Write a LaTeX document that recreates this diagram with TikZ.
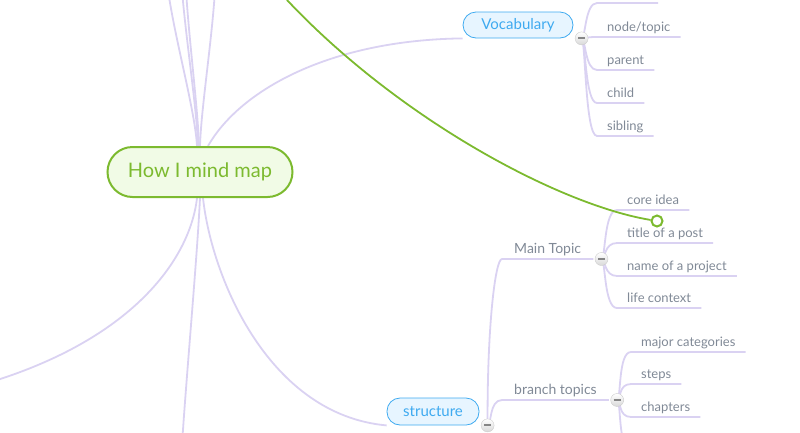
\documentclass[tikz,border=0pt]{standalone}
\usepackage{fontspec}
\setmainfont{Lato}
\usetikzlibrary{positioning}

\definecolor{linklav}{RGB}{218,210,242}
\definecolor{rootgreen}{RGB}{124,186,47}
\definecolor{rootfill}{RGB}{241,251,230}
\definecolor{mainblue}{RGB}{62,170,240}
\definecolor{mainfill}{RGB}{231,245,255}
\definecolor{leafgray}{RGB}{128,137,150}

\pgfdeclarelayer{bg}
\pgfsetlayers{bg,main}

\tikzset{
	link/.style={draw=linklav, line width=1.8pt},
	relline/.style={draw=rootgreen, line width=1.8pt},
	rootbox/.style={draw=rootgreen, line width=2pt, fill=rootfill, rounded corners=25pt,
		minimum width=185pt, minimum height=50pt, text=rootgreen, font=\fontsize{20}{23}\selectfont},
	pill/.style={draw=mainblue, line width=.8pt, fill=mainfill, rounded corners=13pt,
		minimum height=26pt, text=mainblue, font=\fontsize{15}{18}\selectfont},
	sub/.style={anchor=south west, inner xsep=12pt, inner ysep=2pt, text height=10pt,
		text depth=3pt, text=leafgray, font=\fontsize{14}{16}\selectfont},
	leaf/.style={sub, inner xsep=10pt, font=\fontsize{13}{15}\selectfont},
	fold/.style={circle, draw=gray!40, top color=white, bottom color=gray!30, minimum size=13pt,
		inner sep=0pt, path picture={\draw[gray!95, line width=2pt]
		([xshift=-3.5pt]path picture bounding box.center) -- ([xshift=3.5pt]path picture bounding box.center);}},
	relend/.style={circle, draw=rootgreen, line width=2pt, fill=white, minimum size=11pt, inner sep=0pt},
}

\begin{document}
\begin{tikzpicture}[x=1pt, y=-1pt]
	\useasboundingbox (0,0) rectangle (800,432);
	\clip (0,0) rectangle (800,432);
	\node[rootbox] (root) at (200,172) {How I mind map};
	\node[pill, minimum width=110pt] (vocab) at (518,25) {Vocabulary};
	\node[pill, minimum width=92pt, minimum height=27pt] (struct) at (433,411.5) {structure};
	\node[fold, right=1.5pt of vocab.south east] (vfold) {};
	\node[fold, right=1.5pt of struct.south east] (sfold) {};
	\node[sub] (mtopic) at (502,259) {Main Topic};
	\node[fold, right=1.5pt of mtopic.south east] (mfold) {};
	\node[sub] (btopic) at (502,400) {branch topics};
	\node[fold, right=1.5pt of btopic.south east] (bfold) {};
	% vocabulary
	\coordinate (vtop) at (597,3);
	\coordinate (vtopend) at (658,3);
	\node[leaf] (nodetopic) at (597,37) {node/topic};
	\node[leaf] (parent) at (597,70) {parent};
	\node[leaf] (child) at (597,103) {child};
	\node[leaf] (sibling) at (597,136) {sibling};
	% main topic
	\node[leaf] (coreidea) at (617,210) {core idea};
	\node[leaf] (postitle) at (617,243) {title of a post};
	\node[leaf] (project) at (617,276) {name of a project};
	\node[leaf] (context) at (617,308) {life context};
	% branch topics
	\node[leaf] (categories) at (631,352) {major categories};
	\node[leaf] (steps) at (631,384) {steps};
	\node[leaf] (chapters) at (631,417) {chapters};
	\coordinate (bnext) at (631,451);
	% ends off the page
	\coordinate (up1) at (168,-10);
	\coordinate (up2) at (182,-10);
	\coordinate (up3) at (186,-10);
	\coordinate (up4) at (215,-10);
	\coordinate (left1) at (-30,388);
	\coordinate (down1) at (182,445);
	\coordinate (relstart) at (287,0);
	\node[relend] (relend) at (657,221) {};

	\begin{pgfonlayer}{bg}
	\draw[link] ([xshift=-3pt]root.north) .. controls (195,110) and (175,40) .. (up1);
	\draw[link] ([xshift=-2pt]root.north) .. controls (197,110) and (186,40) .. (up2);
	\draw[link] ([xshift=-1pt]root.north) .. controls (198,110) and (189,40) .. (up3);
	\draw[link] (root.north) .. controls (201,110) and (212,40) .. (up4);
	\draw[link] ([xshift=8pt]root.north) .. controls (240,90) and (330,40) .. (vocab.south west);
	\draw[link] ([xshift=-3pt]root.south) .. controls (190,260) and (130,345) .. (left1);
	\draw[link] (root.south) .. controls (197,260) and (186,380) .. (down1);
	\draw[link] ([xshift=3pt]root.south) .. controls (212,280) and (270,415) .. (struct.south west);

	\draw[link] (vfold.center) .. controls +(4,0) and +(-12,0) .. (vtop) -- (vtopend);
	\draw[link] (vfold.center) .. controls +(4,0) and +(-12,0) .. (nodetopic.south west) -- (nodetopic.south east);
	\draw[link] (vfold.center) .. controls +(4,0) and +(-12,0) .. (parent.south west) -- (parent.south east);
	\draw[link] (vfold.center) .. controls +(4,0) and +(-12,0) .. (child.south west) -- (child.south east);
	\draw[link] (vfold.center) .. controls +(4,0) and +(-12,0) .. (sibling.south west) -- (sibling.south east);

	\draw[link] (sfold.center) .. controls (487,330) and (495,259) .. (mtopic.south west) -- (mtopic.south east);
	\draw[link] (sfold.center) .. controls +(4,0) and +(-13,0) .. (btopic.south west) -- (btopic.south east);

	\draw[link] (mfold.center) .. controls +(4,0) and +(-13,0) .. (coreidea.south west) -- (coreidea.south east);
	\draw[link] (mfold.center) .. controls +(4,0) and +(-13,0) .. (postitle.south west) -- (postitle.south east);
	\draw[link] (mfold.center) .. controls +(4,0) and +(-13,0) .. (project.south west) -- (project.south east);
	\draw[link] (mfold.center) .. controls +(4,0) and +(-13,0) .. (context.south west) -- (context.south east);

	\draw[link] (bfold.center) .. controls +(4,0) and +(-13,0) .. (categories.south west) -- (categories.south east);
	\draw[link] (bfold.center) .. controls +(4,0) and +(-13,0) .. (steps.south west) -- (steps.south east);
	\draw[link] (bfold.center) .. controls +(4,0) and +(-13,0) .. (chapters.south west) -- (chapters.south east);
	\draw[link] (bfold.center) .. controls +(4,0) and +(-13,0) .. (bnext);
	\end{pgfonlayer}

	\draw[relline] (relstart) .. controls (400,120) and (560,205) .. (relend);
\end{tikzpicture}
\end{document}
